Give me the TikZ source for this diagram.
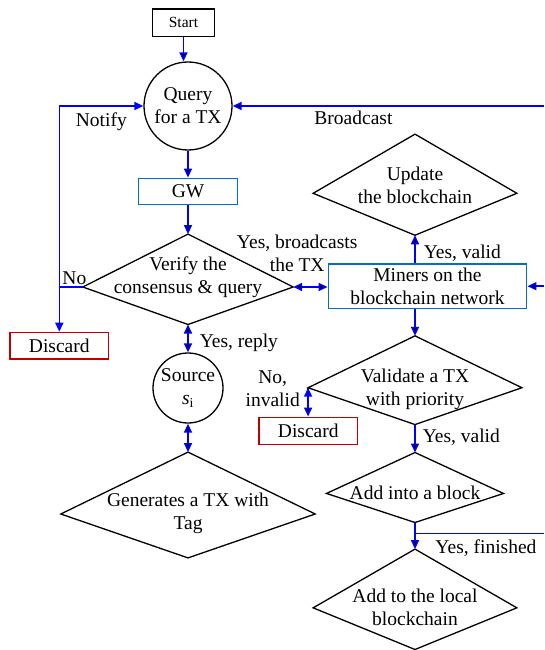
\documentclass[tikz,border=0pt]{standalone}
\usepackage{fontspec}
\setmainfont{Liberation Serif}
\usepackage{xcolor}
\usepackage{tikz}
\usetikzlibrary{arrows.meta,calc}

\definecolor{flowblue}{RGB}{0,0,255}
\definecolor{boxblue}{RGB}{0,112,192}
\definecolor{boxred}{RGB}{192,0,0}

\tikzset{
	flow/.style={draw=flowblue, line width=1.6pt},
	lbl/.style={inner sep=1pt, align=center},
	startbox/.style={draw, line width=1.3pt, inner sep=1pt, minimum width=61.6pt, minimum height=27.7pt, font=\fontsize{15.5}{18}\selectfont},
	bluebox/.style={draw=boxblue, line width=1.5pt, inner sep=1pt, align=center},
	redbox/.style={draw=boxred, line width=1.5pt, inner sep=1pt, minimum width=98.5pt, minimum height=26.5pt},
	roundbox/.style={circle, draw, line width=1.3pt, inner sep=0pt, align=center},
	decision/.style 2 args={inner sep=0pt, minimum width=#1, minimum height=#2},
}

% kite drawn in the box of a decision node, side corners a bit below the middle
\newcommand{\kiteshape}[1]{%
	\coordinate (#1-w) at ($(#1.north west)!0.585!(#1.south west)$);
	\coordinate (#1-e) at ($(#1.north east)!0.585!(#1.south east)$);
	\draw[line width=1.3pt] (#1.north) -- (#1-w) -- (#1.south) -- (#1-e) -- cycle;}

\begin{document}
\begin{tikzpicture}[x=1pt,y=-1pt,font=\fontsize{19.5}{23}\selectfont,>={Triangle[length=9pt,width=8pt]}]
		\useasboundingbox (0,0) rectangle (544,650);
		% left column
		\node[startbox] (S) at (183.5,22.8) {Start};
		\node[roundbox, minimum size=88pt] (Q) at (188,106) {Query\\for a TX};
		\node[bluebox, minimum width=98.7pt, minimum height=26pt] (GW) at (188,191.3) {GW};
		\node[decision={210pt}{90pt}, label={[lbl,name=Vt,yshift=2pt]center:{Verify the\\consensus \& query}}] (V) at (188,279.3) {};
		\node[redbox] (DL) at (59.3,345.7) {Discard};
		\node[roundbox, minimum size=70pt] (Src) at (188,388) {Source\\{\itshape s}\textsubscript{i}};
		\node[decision={254pt}{105.4pt}, label={[lbl,name=Gent,yshift=-8.5pt]center:{Generates a TX with\\Tag}}] (Gen) at (188,505) {};
		% right column
		\node[decision={203.3pt}{100.7pt}, label={[lbl,name=Ut,yshift=-1pt]center:{Update\\the blockchain}}] (U) at (415,184.7) {};
		\node[bluebox, minimum width=198.4pt, minimum height=44.3pt] (M) at (427.5,286.2) {Miners on the\\blockchain network};
		\node[decision={213.4pt}{88.3pt}, label={[lbl,name=Valt,yshift=-9pt]center:{Validate a TX\\with priority}}] (Val) at (415,380.2) {};
		\node[redbox, minimum width=98.7pt, minimum height=27pt] (DR) at (308.3,430.8) {Discard};
		\node[decision={176.6pt}{69.6pt}, label={[lbl,name=ABt,yshift=-5.5pt]center:{Add into a block}}] (AB) at (415,487.5) {};
		\node[decision={203.3pt}{100pt}, label={[lbl,name=ALt,yshift=-8.3pt]center:{Add to the local\\blockchain}}] (AL) at (415,599.3) {};
		\kiteshape{V}
		\kiteshape{Gen}
		\kiteshape{U}
		\kiteshape{Val}
		\kiteshape{AB}
		\kiteshape{AL}
		% loose ends on the right border
		\coordinate (rb) at (544,106);
		\coordinate (rm) at (544,286.2);
		\coordinate (rk) at (544,533.3);
		\coordinate (ns) at (V-w -| DL.north);
		%
		\path[->,flow]
		% down the left column
		(S) edge (S |- Q.north)
		(Q) edge (GW)
		(GW) edge (V)
		(V) edge[<->] node[lbl,right=10pt,pos=0.67] (yr) {Yes, reply} (Src)
		(Src) edge[<->] (Gen)
		% across and back
		(V-e) edge[<->] node[lbl,above=13pt,pos=0,xshift=4pt] (yb) {Yes, broadcasts\\the TX} (V-e -| M.west)
		(rb) edge node[lbl,below=3.5pt,pos=0.612] (bc) {Broadcast} (Q)
		(rm) edge (M)
		% down the right column
		(U.south |- M.north) edge node[lbl,right=7pt,pos=0.36] (yv) {Yes, valid} (U.south)
		(Val.north |- M.south) edge (Val.north)
		(Val-w) edge node[lbl,left=6.5pt,pos=0.04] (ni) {No,\\invalid} (Val-w |- DR.north)
		(Val) edge node[lbl,right=6pt,pos=0.44] (yv2) {Yes, valid} (AB)
		(AB) edge (AL);
		% no branch of the check
		\draw[flow] (V-w) -- node[lbl,above,pos=0.36] (no) {No} (ns);
		\draw[flow,->] (ns) |- node[lbl,below=5pt,pos=0.75] (nt) {Notify} (Q);
		\draw[flow,->] (ns) -- (ns |- DL.north);
		\draw[flow] (AB.south |- rk) -- node[lbl,below=5pt,pos=0.55] (yf) {Yes, finished} (rk);
\end{tikzpicture}
\end{document}
